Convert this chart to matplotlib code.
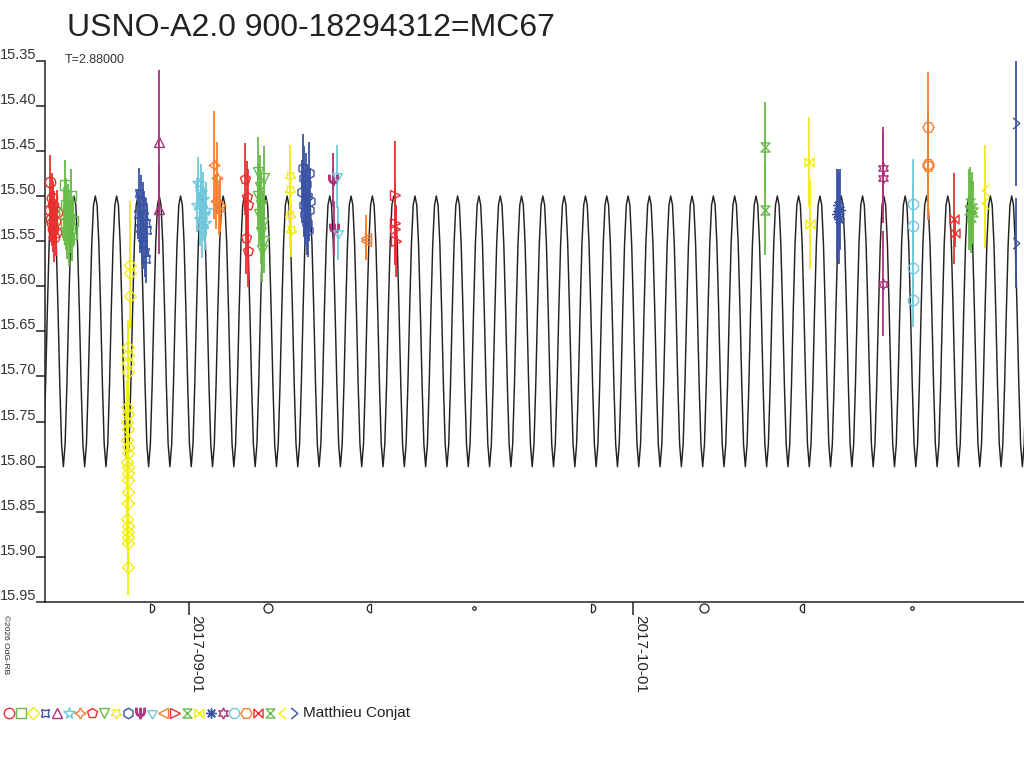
import numpy as np
import matplotlib
matplotlib.use('Agg')
import matplotlib.pyplot as plt
import matplotlib.dates as mdates
import matplotlib.transforms as mtransforms
from matplotlib.path import Path
from matplotlib.lines import Line2D

plt.rcParams['font.family'] = ['Liberation Sans', 'DejaVu Sans']

title = 'USNO-A2.0 900-18294312=MC67'
subtitle = 'T=2.88000'
observer = 'Matthieu Conjat'
ref_date = '2017-09-01'

# model light curve: period, epoch of maximum (days after ref_date), one half-cycle of magnitudes
period = 2.88
t_max = 15.25
half_cycle = [15.500, 15.510, 15.553, 15.626, 15.709, 15.775,
              15.800, 15.775, 15.709, 15.626, 15.553, 15.510]

x_range = [-9.75, 56.4]  # days after ref_date
y_ticks = [15.35, 15.40, 15.45, 15.50, 15.55, 15.60, 15.65, 15.70, 15.75, 15.80, 15.85, 15.90, 15.95]
x_tick_dates = ['2017-09-01', '2017-10-01']

moon_dates = ['2017-08-29 08:13', '2017-09-06 07:03', '2017-09-13 06:25', '2017-09-20 05:30',
              '2017-09-28 02:53', '2017-10-05 18:40', '2017-10-12 12:25', '2017-10-19 19:12']
moon_phase = ['fq', 'full', 'lq', 'new', 'fq', 'full', 'lq', 'new']

# observations, one list per night (days after ref_date, magnitude, error)
obs_t = [
    [-9.42, -9.38, -9.35, -9.31, -9.27, -9.24, -9.20, -9.16, -9.12, -9.07, -9.01, -8.95],
    [-8.45, -8.40, -8.35, -8.30, -8.25, -8.20, -8.15, -8.10, -8.05, -8.00, -7.94, -7.88],
    [-3.99, -4.00, -4.02, -4.16, -4.15, -4.17, -4.14, -4.20, -4.12, -4.18, -4.13, -4.21, -4.16,
     -4.11, -4.19, -4.15, -4.17, -4.14, -4.12, -4.16, -4.18, -4.13, -4.15, -4.17, -4.14, -4.16],
    [-3.45, -3.40, -3.34, -3.28, -3.22, -3.16, -3.10, -3.05, -3.00, -2.95, -2.90, -2.86],
    [-2.06, -2.04],
    [0.55, 0.62, 0.70, 0.78, 0.85, 0.92, 1.00, 1.08, 1.15],
    [1.65, 1.78, 1.90, 2.00, 2.10],
    [3.75, 3.82, 3.88, 3.95, 4.00],
    [4.62, 4.67, 4.72, 4.77, 4.82, 4.87, 4.92, 4.97, 5.02, 5.06],
    [6.78, 6.80, 6.82, 6.84],
    [7.62, 7.67, 7.72, 7.77, 7.82, 7.87, 7.92, 7.97, 8.02, 8.07, 8.12, 8.17],
    [9.73, 9.75],
    [10.00, 10.02],
    [11.94, 11.96],
    [13.88, 13.90, 13.92, 13.94],
    [38.88, 38.90],
    [41.90, 41.92],
    [43.75, 43.85, 43.92, 43.98],
    [46.84, 46.86, 46.85],
    [48.90, 48.91, 48.92, 48.93],
    [49.92, 49.93, 49.94],
    [51.70, 51.76],
    [52.70, 52.76, 52.82, 52.88, 52.94],
    [53.75, 53.77],
    [55.85, 55.87],
]
obs_mag = [
    [15.515, 15.484, 15.525, 15.502, 15.530, 15.510, 15.537, 15.520, 15.545, 15.528, 15.540, 15.518],
    [15.520, 15.488, 15.530, 15.510, 15.540, 15.515, 15.548, 15.525, 15.535, 15.500, 15.542, 15.528],
    [15.576, 15.585, 15.611, 15.667, 15.676, 15.685, 15.695, 15.734, 15.742, 15.750, 15.758, 15.770, 15.778,
     15.785, 15.795, 15.800, 15.807, 15.815, 15.828, 15.840, 15.858, 15.866, 15.872, 15.878, 15.885, 15.911],
    [15.520, 15.497, 15.535, 15.505, 15.545, 15.512, 15.553, 15.522, 15.562, 15.530, 15.570, 15.538],
    [15.440, 15.514],
    [15.510, 15.486, 15.525, 15.495, 15.537, 15.503, 15.520, 15.530, 15.515],
    [15.466, 15.506, 15.480, 15.515, 15.510],
    [15.481, 15.546, 15.501, 15.561, 15.510],
    [15.500, 15.473, 15.520, 15.490, 15.540, 15.510, 15.560, 15.530, 15.480, 15.550],
    [15.478, 15.493, 15.521, 15.538],
    [15.495, 15.469, 15.510, 15.480, 15.520, 15.487, 15.530, 15.500, 15.538, 15.475, 15.515, 15.505],
    [15.482, 15.536],
    [15.478, 15.541],
    [15.546, 15.550],
    [15.499, 15.530, 15.536, 15.550],
    [15.446, 15.515],
    [15.462, 15.531],
    [15.520, 15.510, 15.525, 15.515],
    [15.469, 15.480, 15.597],
    [15.509, 15.533, 15.580, 15.615],
    [15.423, 15.464, 15.467],
    [15.525, 15.541],
    [15.515, 15.508, 15.523, 15.513, 15.518],
    [15.493, 15.508],
    [15.419, 15.552],
]
obs_err = [
    [0.025, 0.030, 0.025, 0.028, 0.025, 0.027, 0.025, 0.026, 0.028, 0.025, 0.026, 0.025],
    [0.030, 0.028, 0.030, 0.030, 0.030, 0.028, 0.030, 0.030, 0.028, 0.030, 0.030, 0.028],
    [0.070, 0.060, 0.030, 0.030, 0.030, 0.030, 0.030, 0.030, 0.030, 0.030, 0.030, 0.030, 0.030,
     0.030, 0.030, 0.030, 0.030, 0.030, 0.030, 0.030, 0.030, 0.030, 0.030, 0.030, 0.030, 0.031],
    [0.028, 0.028, 0.028, 0.028, 0.028, 0.028, 0.028, 0.028, 0.028, 0.028, 0.026, 0.028],
    [0.080, 0.050],
    [0.030, 0.029, 0.030, 0.030, 0.032, 0.030, 0.030, 0.030, 0.030],
    [0.060, 0.030, 0.040, 0.028, 0.030],
    [0.040, 0.040, 0.040, 0.040, 0.040],
    [0.035, 0.038, 0.035, 0.035, 0.035, 0.035, 0.035, 0.035, 0.035, 0.035],
    [0.035, 0.035, 0.035, 0.030],
    [0.035, 0.038, 0.035, 0.035, 0.035, 0.035, 0.035, 0.035, 0.030, 0.035, 0.035, 0.035],
    [0.030, 0.030],
    [0.035, 0.030],
    [0.025, 0.020],
    [0.060, 0.045, 0.040, 0.040],
    [0.050, 0.050],
    [0.050, 0.050],
    [0.050, 0.040, 0.050, 0.045],
    [0.045, 0.050, 0.058],
    [0.050, 0.045, 0.040, 0.030],
    [0.060, 0.060, 0.060],
    [0.050, 0.015],
    [0.045, 0.040, 0.040, 0.040, 0.035],
    [0.050, 0.050],
    [0.070, 0.050],
]

# styles
palette = ['#e8302f', '#67bb48', '#f2ee0c', '#3b53a4', '#ae2f79', '#70c8da', '#f47f30']
hourglass = [(-1, 1), (1, 1), (-1, -1), (1, -1), (-1, 1)]
bowtie = [(-1, 1), (-1, -1), (1, 1), (1, -1), (-1, 1)]
chev_l = [(0.6, 1), (-0.6, 0), (0.6, -1)]
chev_r = [(-0.6, 1), (0.6, 0), (-0.6, -1)]
markers = ['o', 's', 'D', (4, 1, 45), '^', '*', (4, 1, 0), 'p', 'v', (5, 1, 180), 'h', r'$\Psi$',
           (3, 1, 180), '<', '>', hourglass, bowtie, (8, 2, 0), (6, 1, 0), '8', 'H', bowtie,
           hourglass, chev_l, chev_r]
msizes = [7.5, 6.5, 6, 8, 7.5, 8.5, 8, 7.5, 7.5, 8, 7.5, 7.5,
          8, 7.5, 7.5, 6.5, 6.5, 7.5, 8, 8, 8, 6.5,
          6.5, 8, 8]


def half_moon(a0, a1):
    arc = Path.arc(a0, a1)
    v = np.vstack([arc.vertices, arc.vertices[:1]])
    return Path(v)


moon_markers = {'fq': half_moon(-90, 90), 'lq': half_moon(90, 270), 'full': 'o', 'new': 'o'}
moon_sizes = {'fq': 6, 'lq': 6, 'full': 6.5, 'new': 2.5}

base = mdates.datestr2num(ref_date)

fig = plt.figure(figsize=(10.24, 7.68), dpi=100)
W, H = 1024, 768
ax = fig.add_axes([45 / W, 1 - 602 / H, (W - 45) / W, (602 - 60.7) / H])

# model curve, tiled from the template
template = half_cycle + half_cycle
n_tpl = len(template)
k0 = int(np.floor((x_range[0] - t_max) / period)) - 1
k1 = int(np.ceil((x_range[1] - t_max) / period)) + 1
curve_t, curve_m = [], []
for k in range(k0, k1 + 1):
    for j, m in enumerate(template):
        curve_t.append(base + t_max + (k + j / n_tpl) * period)
        curve_m.append(m)
ax.plot(curve_t, curve_m, color='#222222', lw=1.05, zorder=1)

for i in range(len(obs_t)):
    c = palette[i % len(palette)]
    tt = base + np.array(obs_t[i])
    ax.errorbar(tt, obs_mag[i], yerr=obs_err[i], fmt='none', ecolor=c, elinewidth=1.3,
                capsize=0, zorder=2)
    ax.plot(tt, obs_mag[i], ls='none', marker=markers[i], ms=msizes[i], mfc='none', mec=c,
            mew=1.0, zorder=3)

ax.set_xlim(base + x_range[0], base + x_range[1])
ax.set_ylim(y_ticks[-1], y_ticks[0])

for s in ['top', 'right']:
    ax.spines[s].set_visible(False)
for s in ['left', 'bottom']:
    ax.spines[s].set_color('#222222')
    ax.spines[s].set_linewidth(1.1)

ax.set_yticks(y_ticks)
ax.set_yticklabels([])
ax.tick_params(axis='y', direction='out', length=6.5, width=1.1, color='#222222')
ytrans = mtransforms.offset_copy(
    mtransforms.blended_transform_factory(fig.transFigure, ax.transData),
    fig=fig, x=0, y=2, units='dots')
for v in y_ticks:
    ax.text(0.0, v, f'{v:.2f}', transform=ytrans, ha='left', va='baseline',
            fontsize=10.5, color='#333333')

ax.set_xticks(mdates.datestr2num(x_tick_dates))
ax.set_xticklabels(x_tick_dates, rotation=270, ha='left', va='top', fontsize=11,
                   color='#222222')
ax.tick_params(axis='x', direction='out', length=9.4, width=1.1, color='#222222', pad=0)

# moon phases under the axis
mtrans = mtransforms.blended_transform_factory(ax.transData, ax.transAxes)
for d, ph in zip(moon_dates, moon_phase):
    ax.plot([mdates.datestr2num(d)], [-0.011], transform=mtrans, ls='none',
            marker=moon_markers[ph], ms=moon_sizes[ph], mfc='none', mec='#222222',
            mew=0.9, clip_on=False)

fig.text(67 / W, 1 - 28 / H, title, fontsize=23, ha='left', va='center', color='#222222')
fig.text(65 / W, 1 - 60 / H, subtitle, fontsize=9, ha='left', va='center', color='#333333')
fig.text(2 / W, 1 - 615 / H, '\u00a92026 OdG-RB', fontsize=6, rotation=270, ha='left',
         va='top', color='#222222')

# legend row of night symbols
for i in range(len(obs_t)):
    c = palette[i % len(palette)]
    fig.add_artist(Line2D([(9.3 + i * 11.85) / W], [1 - 713 / H], transform=fig.transFigure,
                          ls='none', marker=markers[i], ms=msizes[i], mfc='none', mec=c,
                          mew=1.0))
fig.text(303 / W, 1 - 713 / H, observer, fontsize=11, ha='left', va='center', color='#222222')

fig.savefig('out.png', dpi=100)
